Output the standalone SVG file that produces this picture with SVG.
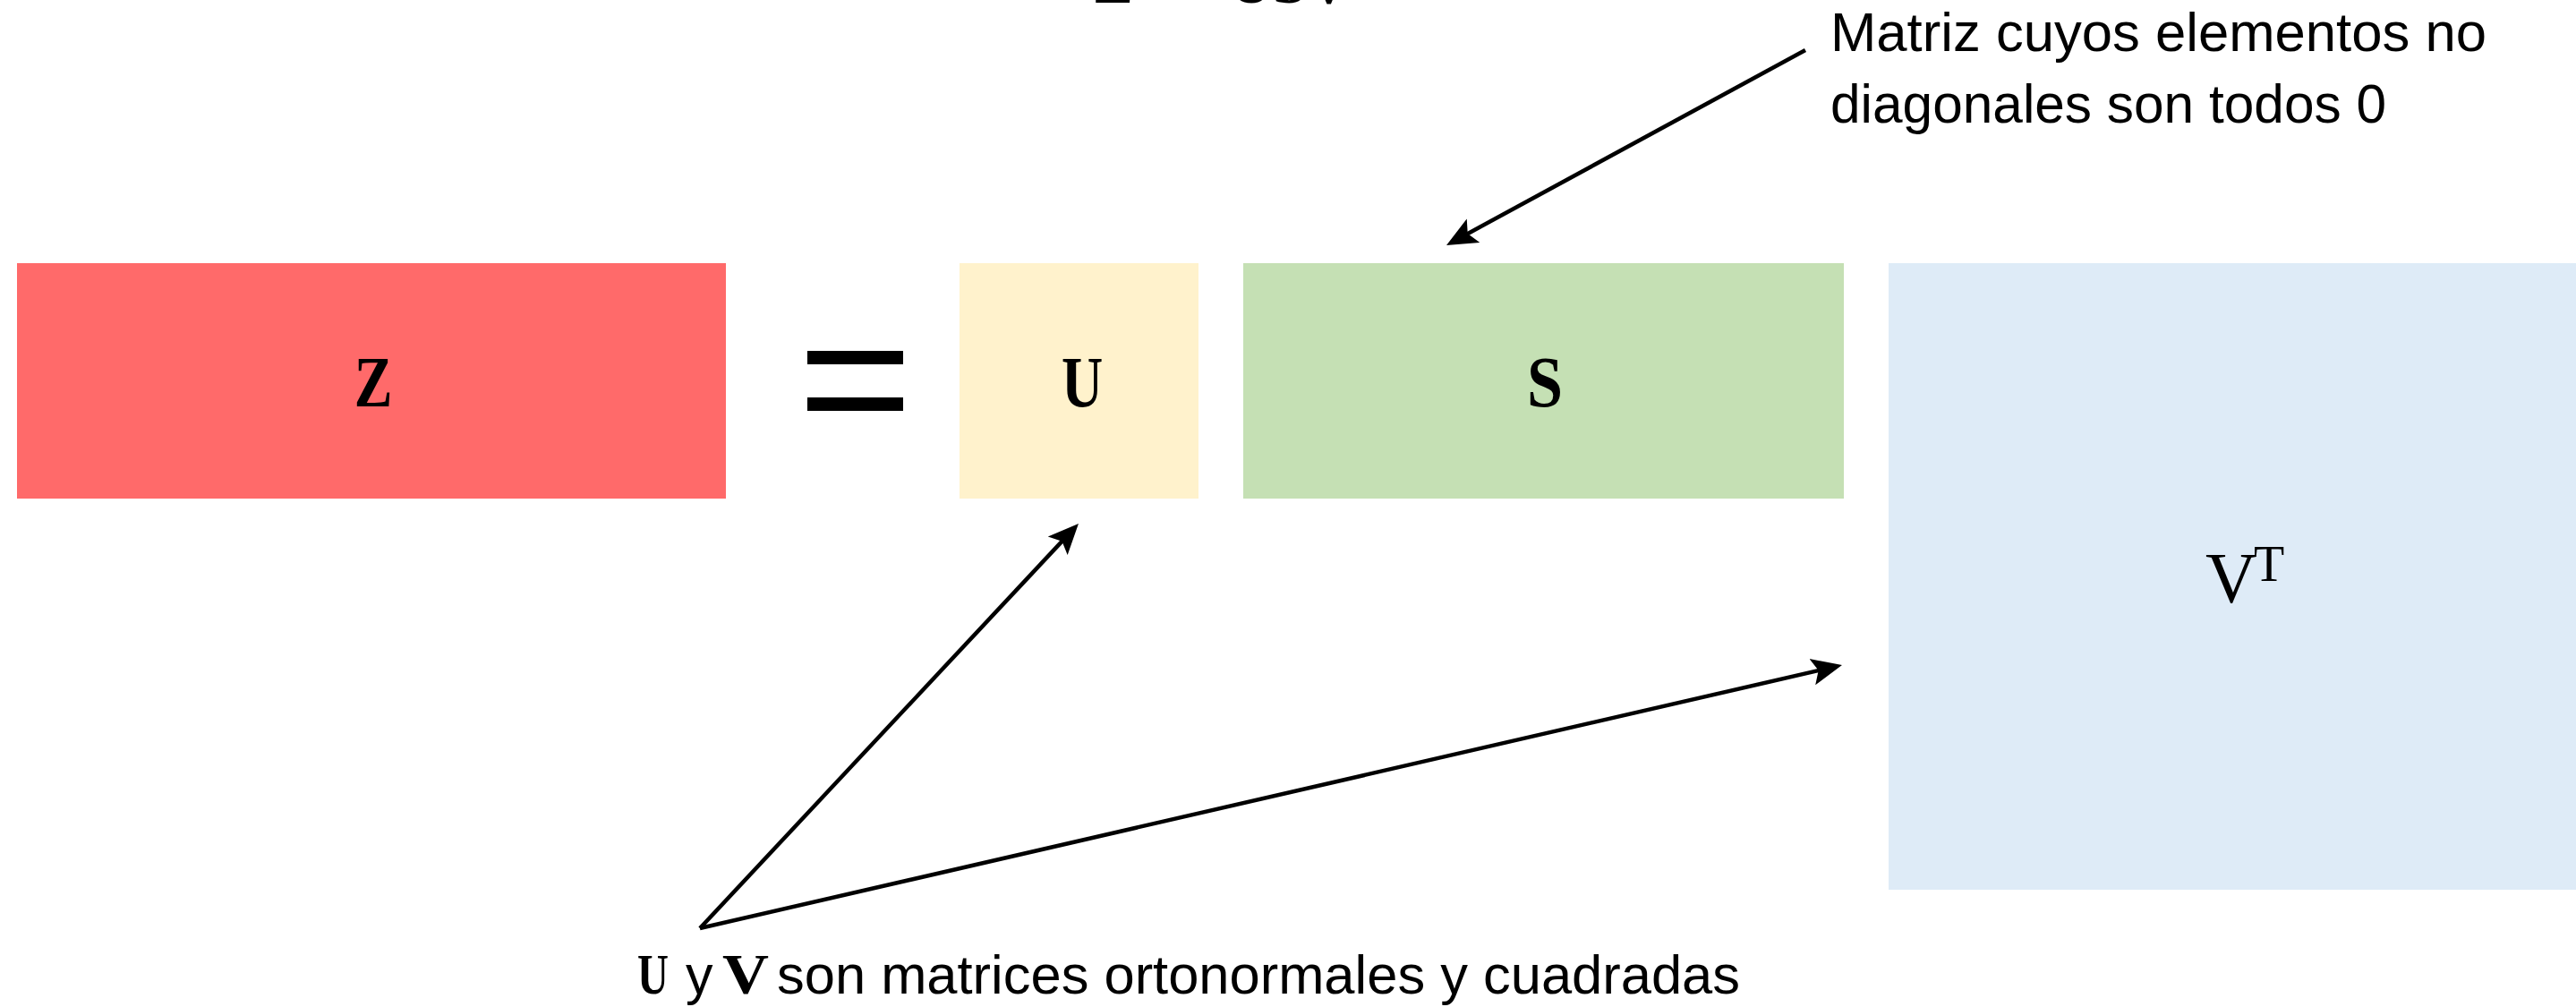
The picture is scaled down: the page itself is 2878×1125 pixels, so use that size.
<svg xmlns="http://www.w3.org/2000/svg" width="2878" height="1125" viewBox="0 0 2878 1125">
<style>
  .sb { font-family: "Liberation Serif", "Times New Roman", serif; font-weight: bold; fill: #000; }
  .sr { font-family: "Liberation Serif", "Times New Roman", serif; fill: #000; }
  .ss { font-family: "Liberation Sans", Arial, sans-serif; fill: #000; }
  .conn { stroke: #000; stroke-width: 4.5; fill: none; marker-end: url(#arr); }
</style>
<defs>
  <marker id="arr" markerUnits="userSpaceOnUse" markerWidth="36" markerHeight="32" viewBox="0 0 36 32" refX="14" refY="16" orient="auto">
    <path d="M0,1 L34,16 L0,31 L7,16 z" fill="#000"/>
  </marker>
</defs>
<rect width="2878" height="1125" fill="#fff"/>

<g id="title">
  <text class="sb" y="3" font-size="68"><tspan x="1221">Z</tspan><tspan x="1300">=</tspan><tspan x="1373">USV</tspan></text>
</g>

<g id="node-Z">
  <rect x="19" y="294" width="792" height="263" fill="#FF6A6A"/>
  <text class="sb" font-size="80" text-anchor="middle" transform="translate(417,454) scale(0.8,1)">Z</text>
</g>

<g id="equals">
  <rect x="902" y="392" width="107" height="15" fill="#000"/>
  <rect x="902" y="444" width="107" height="15" fill="#000"/>
</g>

<g id="node-U">
  <rect x="1072" y="294" width="267" height="263" fill="#FFF2CC"/>
  <text class="sb" font-size="80" text-anchor="middle" transform="translate(1209,454) scale(0.8,1)">U</text>
</g>

<g id="node-S">
  <rect x="1389" y="294" width="671" height="263" fill="#C5E0B4"/>
  <text class="sb" font-size="80" text-anchor="middle" transform="translate(1726,454) scale(0.9,1)">S</text>
</g>

<g id="node-VT">
  <rect x="2110" y="294" width="790" height="700" fill="#DEEBF7"/>
  <text class="sr" font-size="80" text-anchor="middle" x="2493" y="673">V</text>
  <text class="sr" font-size="56" text-anchor="middle" x="2535" y="649">T</text>
</g>

<g id="note-S">
  <text class="ss" font-size="62" x="2045" y="57" textLength="733" lengthAdjust="spacingAndGlyphs">Matriz cuyos elementos no</text>
  <text class="ss" font-size="62" x="2045" y="137" textLength="621" lengthAdjust="spacingAndGlyphs">diagonales son todos 0</text>
</g>

<g id="note-UV">
  <text class="sb" font-size="64" x="712" y="1110" textLength="35" lengthAdjust="spacingAndGlyphs">U</text>
  <text class="ss" font-size="61" x="766" y="1110">y</text>
  <text class="sb" font-size="64" x="807" y="1110" textLength="52" lengthAdjust="spacingAndGlyphs">V</text>
  <text class="ss" font-size="61" x="868" y="1110" textLength="1076" lengthAdjust="spacingAndGlyphs">son matrices ortonormales y cuadradas</text>
</g>

<g id="connectors">
  <line class="conn" x1="782" y1="1037" x2="1191.3" y2="599.6"/>
  <line class="conn" x1="782" y1="1037" x2="2038.5" y2="747.5"/>
  <line class="conn" x1="2017" y1="56" x2="1633.6" y2="264.4"/>
</g>
</svg>
